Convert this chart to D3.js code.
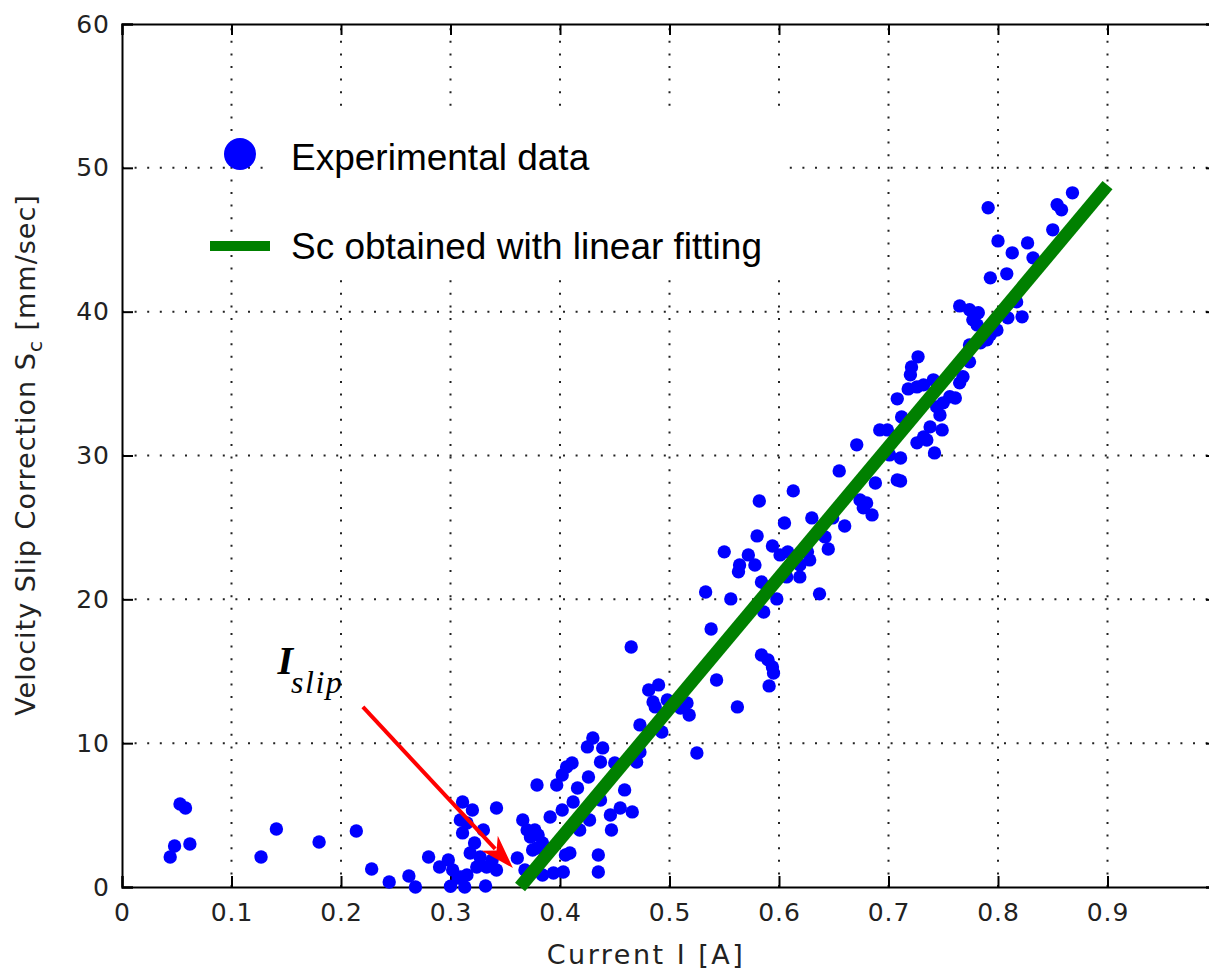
<!DOCTYPE html>
<html><head><meta charset="utf-8">
<script src="https://cdn.jsdelivr.net/npm/d3@7"></script>
<style>html,body{margin:0;padding:0;background:#fff;}svg{display:block;}</style>
</head><body>
<svg id="chart" width="1209" height="972"></svg>
<script>
// ---- data ----
const currentA = [
 0.053,0.058,0.048,0.044,0.062,0.127,0.141,0.180,0.214,0.228,0.244,0.262,0.268,0.280,0.290,0.298,0.302,0.307,0.315,0.313,0.332,0.311,0.320,0.309,0.315,0.311,0.322,0.330,0.318,0.327,0.333,0.342,0.338,0.342,0.309,0.324,0.300,
 0.361,0.366,0.370,0.377,0.373,0.380,0.379,0.384,0.379,0.391,0.397,0.402,0.406,0.411,0.416,0.402,0.412,0.394,0.403,0.384,0.405,0.375,0.418,0.409,0.425,0.430,0.368,
 0.437,0.450,0.426,0.439,0.473,0.470,0.473,0.493,0.465,0.437,0.446,0.435,0.435,0.459,0.466,0.427,0.447,0.455,
 0.481,0.490,0.485,0.487,0.498,0.516,0.510,0.518,0.525,0.538,0.533,0.556,0.543,0.562,0.550,0.572,0.564,0.563,0.578,0.582,0.580,0.594,0.584,0.589,0.598,0.586,0.584,0.590,0.594,0.595,0.591,
 0.601,0.608,0.626,0.628,0.619,0.607,0.619,0.637,0.605,0.613,0.630,0.649,0.642,0.645,0.660,0.655,0.671,0.674,0.680,0.677,0.685,0.688,0.708,0.692,0.699,0.701,0.711,0.711,
 0.708,0.712,0.718,0.726,0.732,0.741,0.727,0.721,0.720,0.768,0.765,0.756,0.761,0.750,0.744,0.747,0.738,0.749,0.732,0.726,0.735,0.742,0.774,0.765,0.774,0.782,0.777,0.781,0.809,0.822,0.799,0.793,0.790,0.784,0.774,0.817,0.793,0.808,0.832,0.813,0.800,0.827,0.850,0.791,0.854,0.858,0.868
];
const slipMms = [
 5.77,5.49,2.85,2.09,2.99,2.09,4.03,3.13,3.89,1.25,0.35,0.76,0.00,2.09,1.39,1.88,1.18,0.63,0.83,0.00,0.07,5.91,5.35,4.66,4.45,3.76,3.06,3.96,2.36,2.09,1.39,1.18,1.88,5.49,0.70,1.39,0.05,
 2.02,4.66,3.96,3.96,3.48,3.62,2.71,3.06,7.09,4.87,7.09,7.79,8.34,8.62,6.88,5.35,5.91,0.97,1.04,0.83,2.23,2.57,3.96,2.36,9.74,10.36,1.18,
 8.69,8.62,7.65,9.67,9.39,8.69,11.27,10.78,16.69,6.05,5.01,2.23,1.04,6.75,5.22,4.66,3.96,5.49,
 13.70,14.05,12.87,12.52,13.00,12.80,12.45,11.96,9.32,17.94,20.51,20.03,14.39,12.52,23.30,23.09,22.39,21.91,22.39,26.84,24.41,23.71,21.21,20.86,20.03,19.12,16.13,15.79,15.30,14.88,13.98,
 23.09,23.30,23.30,22.74,22.39,21.56,21.56,20.38,25.31,27.54,25.66,25.66,24.34,23.50,25.10,28.93,30.74,26.91,26.70,26.36,25.87,28.09,28.30,31.78,31.78,30.04,29.83,28.23,
 33.94,32.68,34.63,34.77,34.91,35.26,36.86,36.16,35.61,35.47,35.05,34.08,34.00,33.66,33.38,32.82,31.99,31.78,31.29,30.88,31.08,30.18,36.51,40.40,40.13,39.92,39.43,39.08,39.57,39.64,38.73,38.39,38.04,37.83,37.69,40.68,42.35,42.63,43.74,44.09,44.92,44.78,45.69,47.22,47.43,47.08,48.26
];
const fitX = [0.3635, 0.9];
const fitY = [0, 48.8];
const xTicks = [0,0.1,0.2,0.3,0.4,0.5,0.6,0.7,0.8,0.9,1.0];
const xTickLabels = ["0","0.1","0.2","0.3","0.4","0.5","0.6","0.7","0.8","0.9",""];
const yTicks = [0,10,20,30,40,50,60];
const legendLabels = ["Experimental data","Sc obtained with linear fitting"];
const arrowFrom = [0.220, 12.52];
const arrowTo = [0.357, 1.32];
const slipLabelAt = [0.142, 14.8];

// ---- layout ----
const svg = d3.select("#chart");
const L = 122, T = 24, R = 1217, B = 887;
const x = d3.scaleLinear().domain([0,1.0]).range([L,R]);
const y = d3.scaleLinear().domain([0,60]).range([B,T]);
const tickFont = "'DejaVu Sans', sans-serif";

// grid
const grid = svg.append("g").attr("stroke","#222").attr("stroke-width",2).attr("stroke-dasharray","2,10.6");
grid.selectAll(".gx").data(xTicks.filter(d=>d>0 && d<1)).enter().append("line")
  .attr("x1",d=>x(d)).attr("x2",d=>x(d)).attr("y1",B).attr("y2",T);
grid.selectAll(".gy").data(yTicks.filter(d=>d>0 && d<60)).enter().append("line")
  .attr("x1",L).attr("x2",R).attr("y1",d=>y(d)).attr("y2",d=>y(d));

// white legend panel (covers grid behind legend text)
svg.append("rect").attr("x",272).attr("y",115).attr("width",509).attr("height",161).attr("fill","#fff");

// axes
const axB = d3.axisBottom(x).tickValues(xTicks).tickSize(-11).tickPadding(16).tickFormat((d,i)=>xTickLabels[i]);
const axT = d3.axisTop(x).tickValues(xTicks).tickSize(-11).tickFormat("");
const axLft = d3.axisLeft(y).tickValues(yTicks).tickSize(-11).tickPadding(12).tickFormat(d3.format("d"));
const axRt = d3.axisRight(y).tickValues(yTicks).tickSize(-11).tickFormat("");
function style(g){
  g.selectAll("path").attr("stroke","#000").attr("stroke-width",2);
  g.selectAll("line").attr("stroke","#000").attr("stroke-width",2);
  g.selectAll("text").attr("font-family",tickFont).attr("font-size",25).attr("fill","#222").attr("letter-spacing",1);
}
svg.append("g").attr("transform",`translate(0,${B})`).call(axB).call(style);
svg.append("g").attr("transform",`translate(0,${T})`).call(axT).call(style);
svg.append("g").attr("transform",`translate(${L},0)`).call(axLft).call(style);
svg.append("g").attr("transform",`translate(${R},0)`).call(axRt).call(style);

// data points
svg.append("g").selectAll("circle").data(currentA.map((c,i)=>[c,slipMms[i]])).enter().append("circle")
  .attr("cx",d=>x(d[0])).attr("cy",d=>y(d[1])).attr("r",6.7).attr("fill","#0000ff");

// fit line
svg.append("line").attr("x1",x(fitX[0])).attr("y1",y(fitY[0])).attr("x2",x(fitX[1])).attr("y2",y(fitY[1]))
  .attr("stroke","#008000").attr("stroke-width",13);

// arrow annotation
const ax1 = x(arrowFrom[0]), ay1 = y(arrowFrom[1]), ax2 = x(arrowTo[0]), ay2 = y(arrowTo[1]);
const ang = Math.atan2(ay2-ay1, ax2-ax1);
const hl = 34, hw = 11;
const bx = ax2 - hl*Math.cos(ang), by = ay2 - hl*Math.sin(ang);
svg.append("line").attr("x1",ax1).attr("y1",ay1).attr("x2",bx+8*Math.cos(ang)).attr("y2",by+8*Math.sin(ang))
  .attr("stroke","#ff0000").attr("stroke-width",4);
const p1 = [bx - hw*Math.sin(ang), by + hw*Math.cos(ang)];
const p2 = [bx + hw*Math.sin(ang), by - hw*Math.cos(ang)];
const pm = [ax2 - (hl-10)*Math.cos(ang), ay2 - (hl-10)*Math.sin(ang)];
svg.append("path").attr("d",`M${ax2},${ay2}L${p1[0]},${p1[1]}L${pm[0]},${pm[1]}L${p2[0]},${p2[1]}Z`).attr("fill","#ff0000");

// I_slip label
const sl = svg.append("text").attr("x",x(slipLabelAt[0])).attr("y",y(slipLabelAt[1]))
  .attr("font-family","'Liberation Serif', serif").attr("font-style","italic").attr("fill","#000");
sl.append("tspan").attr("font-size",40).attr("font-weight","bold").text("I");
sl.append("tspan").attr("font-size",32).attr("letter-spacing",1.5).attr("dx",-2).attr("dy",19).text("slip");

// legend
const lg = svg.append("g");
lg.append("circle").attr("cx",240).attr("cy",154).attr("r",16).attr("fill","#0000ff");
lg.append("line").attr("x1",210).attr("x2",270).attr("y1",246).attr("y2",246).attr("stroke","#008000").attr("stroke-width",10);
lg.selectAll("text.lg").data(legendLabels).enter().append("text")
  .attr("x",291).attr("y",(d,i)=>i===0?170:259)
  .attr("font-family","'Liberation Sans', Arial, sans-serif").attr("font-size",37).attr("fill","#000").text(d=>d);

// axis labels
svg.append("text").attr("x",646).attr("y",964).attr("text-anchor","middle")
  .attr("font-family",tickFont).attr("font-size",27).attr("letter-spacing",2.5).attr("fill","#222").text("Current I [A]");
const yl = svg.append("text").attr("transform","translate(35,455) rotate(-90)").attr("text-anchor","middle")
  .attr("font-family",tickFont).attr("font-size",27).attr("letter-spacing",1).attr("fill","#222");
yl.append("tspan").text("Velocity Slip Correction S");
yl.append("tspan").attr("font-size",20).attr("dy",7).text("c");
yl.append("tspan").attr("dy",-7).text("  [mm/sec]");
</script>
</body></html>
